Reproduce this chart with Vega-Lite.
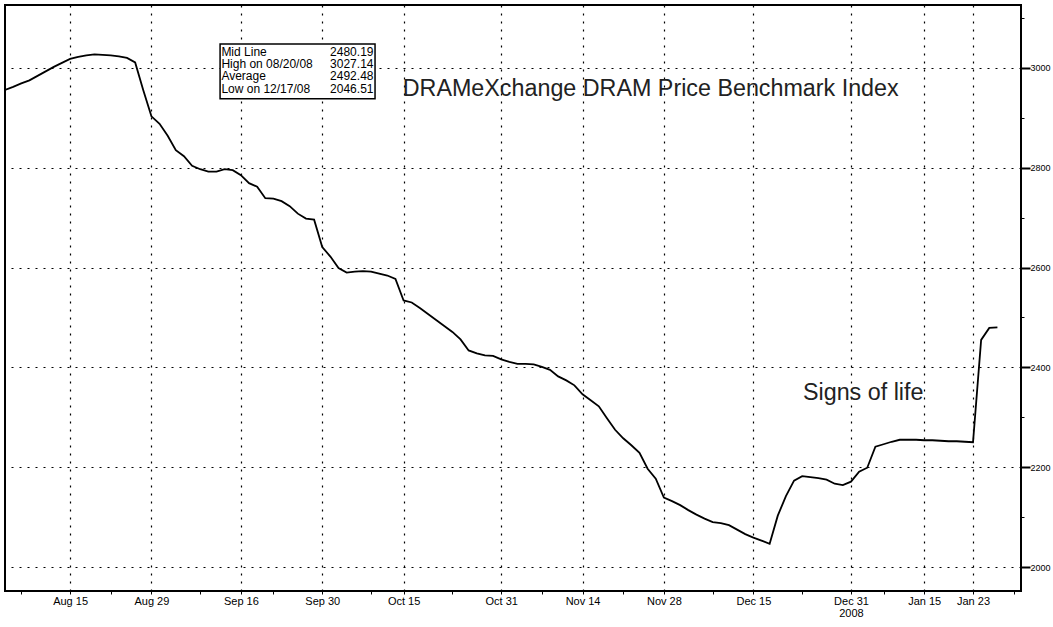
{
  "$schema": "https://vega.github.io/schema/vega-lite/v6.json",
  "width": 1016,
  "height": 586,
  "autosize": "none",
  "padding": {"left": 5, "top": 5, "right": 32, "bottom": 36},
  "background": "white",
  "config": {
    "view": {"stroke": "black", "strokeWidth": 2},
    "font": "Liberation Sans"
  },
  "datasets": {
    "dram": [
      {"day": 0, "price": 2956}, {"day": 1, "price": 2962}, {"day": 2, "price": 2969}, {"day": 3, "price": 2975},
      {"day": 4, "price": 2984}, {"day": 5, "price": 2993}, {"day": 6, "price": 3002}, {"day": 7, "price": 3010},
      {"day": 8, "price": 3018}, {"day": 9, "price": 3022}, {"day": 10, "price": 3025}, {"day": 11, "price": 3027.14},
      {"day": 12, "price": 3026}, {"day": 13, "price": 3025}, {"day": 14, "price": 3023}, {"day": 15, "price": 3020},
      {"day": 16, "price": 3011}, {"day": 17, "price": 2955}, {"day": 18, "price": 2903}, {"day": 19, "price": 2888},
      {"day": 20, "price": 2864}, {"day": 21, "price": 2835}, {"day": 22, "price": 2823}, {"day": 23, "price": 2804},
      {"day": 24, "price": 2797}, {"day": 25, "price": 2792}, {"day": 26, "price": 2792}, {"day": 27, "price": 2797},
      {"day": 28, "price": 2795}, {"day": 29, "price": 2785}, {"day": 30, "price": 2769}, {"day": 31, "price": 2762},
      {"day": 32, "price": 2739}, {"day": 33, "price": 2738}, {"day": 34, "price": 2733}, {"day": 35, "price": 2723},
      {"day": 36, "price": 2708}, {"day": 37, "price": 2698}, {"day": 38, "price": 2696}, {"day": 39, "price": 2641},
      {"day": 40, "price": 2622}, {"day": 41, "price": 2599}, {"day": 42, "price": 2590}, {"day": 43, "price": 2592},
      {"day": 44, "price": 2593}, {"day": 45, "price": 2592}, {"day": 46, "price": 2588}, {"day": 47, "price": 2584},
      {"day": 48, "price": 2577}, {"day": 49, "price": 2534}, {"day": 50, "price": 2530}, {"day": 51, "price": 2519},
      {"day": 52, "price": 2507}, {"day": 53, "price": 2495}, {"day": 54, "price": 2483}, {"day": 55, "price": 2471},
      {"day": 56, "price": 2456}, {"day": 57, "price": 2434}, {"day": 58, "price": 2428}, {"day": 59, "price": 2424},
      {"day": 60, "price": 2423}, {"day": 61, "price": 2416}, {"day": 62, "price": 2411}, {"day": 63, "price": 2407},
      {"day": 64, "price": 2407}, {"day": 65, "price": 2406}, {"day": 66, "price": 2401}, {"day": 67, "price": 2395},
      {"day": 68, "price": 2382}, {"day": 69, "price": 2374}, {"day": 70, "price": 2364}, {"day": 71, "price": 2346},
      {"day": 72, "price": 2334}, {"day": 73, "price": 2322}, {"day": 74, "price": 2298}, {"day": 75, "price": 2275},
      {"day": 76, "price": 2258}, {"day": 77, "price": 2244}, {"day": 78, "price": 2229}, {"day": 79, "price": 2197},
      {"day": 80, "price": 2177}, {"day": 81, "price": 2139}, {"day": 82, "price": 2132}, {"day": 83, "price": 2124},
      {"day": 84, "price": 2114}, {"day": 85, "price": 2105}, {"day": 86, "price": 2097}, {"day": 87, "price": 2090},
      {"day": 88, "price": 2088}, {"day": 89, "price": 2084}, {"day": 90, "price": 2075}, {"day": 91, "price": 2066},
      {"day": 92, "price": 2059}, {"day": 93, "price": 2053}, {"day": 94, "price": 2046.51}, {"day": 95, "price": 2103},
      {"day": 96, "price": 2142}, {"day": 97, "price": 2173}, {"day": 98, "price": 2182}, {"day": 99, "price": 2180},
      {"day": 100, "price": 2178}, {"day": 101, "price": 2175}, {"day": 102, "price": 2167}, {"day": 103, "price": 2164},
      {"day": 104, "price": 2171}, {"day": 105, "price": 2191}, {"day": 106, "price": 2199}, {"day": 107, "price": 2241},
      {"day": 108, "price": 2246}, {"day": 109, "price": 2251}, {"day": 110, "price": 2255}, {"day": 111, "price": 2255},
      {"day": 112, "price": 2255}, {"day": 113, "price": 2254}, {"day": 114, "price": 2254}, {"day": 115, "price": 2253},
      {"day": 116, "price": 2252}, {"day": 117, "price": 2252}, {"day": 118, "price": 2251}, {"day": 119, "price": 2250},
      {"day": 120, "price": 2455}, {"day": 121, "price": 2479}, {"day": 122, "price": 2480.19}
    ],
    "box": [{"x1": 26.44, "x2": 45.49, "y1": 3048, "y2": 2938}],
    "stats": [
      {"label": "Mid Line", "value": "2480.19", "lx": 26.6, "rx": 45.3, "py": 3032},
      {"label": "High on 08/20/08", "value": "3027.14", "lx": 26.6, "rx": 45.3, "py": 3008},
      {"label": "Average", "value": "2492.48", "lx": 26.6, "rx": 45.3, "py": 2983},
      {"label": "Low on 12/17/08", "value": "2046.51", "lx": 26.6, "rx": 45.3, "py": 2957}
    ],
    "notes": [
      {"text": "DRAMeXchange DRAM Price Benchmark Index", "day": 48.9, "price": 2944},
      {"text": "Signs of life", "day": 98.1, "price": 2335}
    ]
  },
  "layer": [
    {
      "data": {"name": "dram"},
      "mark": {"type": "line", "color": "black", "strokeWidth": 1.8, "clip": true},
      "encoding": {
        "x": {
          "field": "day", "type": "quantitative",
          "scale": {"domain": [0, 124.9], "nice": false, "zero": false},
          "axis": {
            "title": null,
            "values": [2, 8, 13, 18, 24, 29, 33, 39, 45, 49, 55, 61, 66, 71, 76, 81, 87, 92, 98, 104, 108, 113, 119, 124],
            "labelExpr": "datum.value == 8 ? 'Aug 15' : datum.value == 18 ? 'Aug 29' : datum.value == 29 ? 'Sep 16' : datum.value == 39 ? 'Sep 30' : datum.value == 49 ? 'Oct 15' : datum.value == 61 ? 'Oct 31' : datum.value == 71 ? 'Nov 14' : datum.value == 81 ? 'Nov 28' : datum.value == 92 ? 'Dec 15' : datum.value == 104 ? ['Dec 31', '2008'] : datum.value == 113 ? 'Jan 15' : datum.value == 119 ? 'Jan 23' : ''",
            "labelFont": "Liberation Sans",
            "labelFontSize": 11,
            "labelColor": "black",
            "labelPadding": 1,
            "labelLineHeight": 12,
            "labelOverlap": false,
            "labelFlush": false,
            "tickColor": "black",
            "tickSize": 3,
            "tickWidth": 1,
            "domain": false,
            "grid": true,
            "gridColor": "black",
            "gridDash": [2, 6],
            "gridWidth": 1.2,
            "gridOpacity": {"condition": {"test": "indexof([8,18,29,39,49,61,71,81,92,104,113,119], datum.value) >= 0", "value": 1}, "value": 0}
          }
        },
        "y": {
          "field": "price", "type": "quantitative",
          "scale": {"domain": [1952, 3126], "nice": false, "zero": false},
          "axis": {
            "title": null,
            "orient": "right",
            "values": [2000, 2100, 2200, 2300, 2400, 2500, 2600, 2700, 2800, 2900, 3000, 3100],
            "format": "d",
            "labelExpr": "datum.value % 200 == 0 ? datum.label : ''",
            "labelFont": "Liberation Sans",
            "labelFontSize": 9,
            "labelColor": "black",
            "labelPadding": 0,
            "labelOverlap": false,
            "labelFlush": false,
            "tickColor": "black",
            "tickSize": {"condition": {"test": "datum.value % 200 == 0", "value": 9}, "value": 3},
            "tickWidth": {"condition": {"test": "datum.value % 200 == 0", "value": 2}, "value": 1},
            "domain": false,
            "grid": true,
            "gridColor": "black",
            "gridDash": [2, 6],
            "gridWidth": 1.2,
            "gridOpacity": {"condition": {"test": "datum.value % 200 == 0", "value": 1}, "value": 0}
          }
        }
      }
    },
    {
      "data": {"name": "box"},
      "mark": {"type": "rect", "fill": "white", "stroke": "black", "strokeWidth": 1.5},
      "encoding": {
        "x": {"field": "x1", "type": "quantitative"},
        "x2": {"field": "x2"},
        "y": {"field": "y1", "type": "quantitative"},
        "y2": {"field": "y2"}
      }
    },
    {
      "data": {"name": "stats"},
      "mark": {"type": "text", "align": "left", "baseline": "middle", "font": "Liberation Sans", "fontSize": 12, "color": "black"},
      "encoding": {
        "x": {"field": "lx", "type": "quantitative"},
        "y": {"field": "py", "type": "quantitative"},
        "text": {"field": "label"}
      }
    },
    {
      "data": {"name": "stats"},
      "mark": {"type": "text", "align": "right", "baseline": "middle", "font": "Liberation Sans", "fontSize": 12, "color": "black"},
      "encoding": {
        "x": {"field": "rx", "type": "quantitative"},
        "y": {"field": "py", "type": "quantitative"},
        "text": {"field": "value"}
      }
    },
    {
      "data": {"name": "notes"},
      "mark": {"type": "text", "align": "left", "baseline": "alphabetic", "font": "Liberation Sans", "fontSize": 23.3, "color": "#222"},
      "encoding": {
        "x": {"field": "day", "type": "quantitative"},
        "y": {"field": "price", "type": "quantitative"},
        "text": {"field": "text"}
      }
    }
  ]
}
